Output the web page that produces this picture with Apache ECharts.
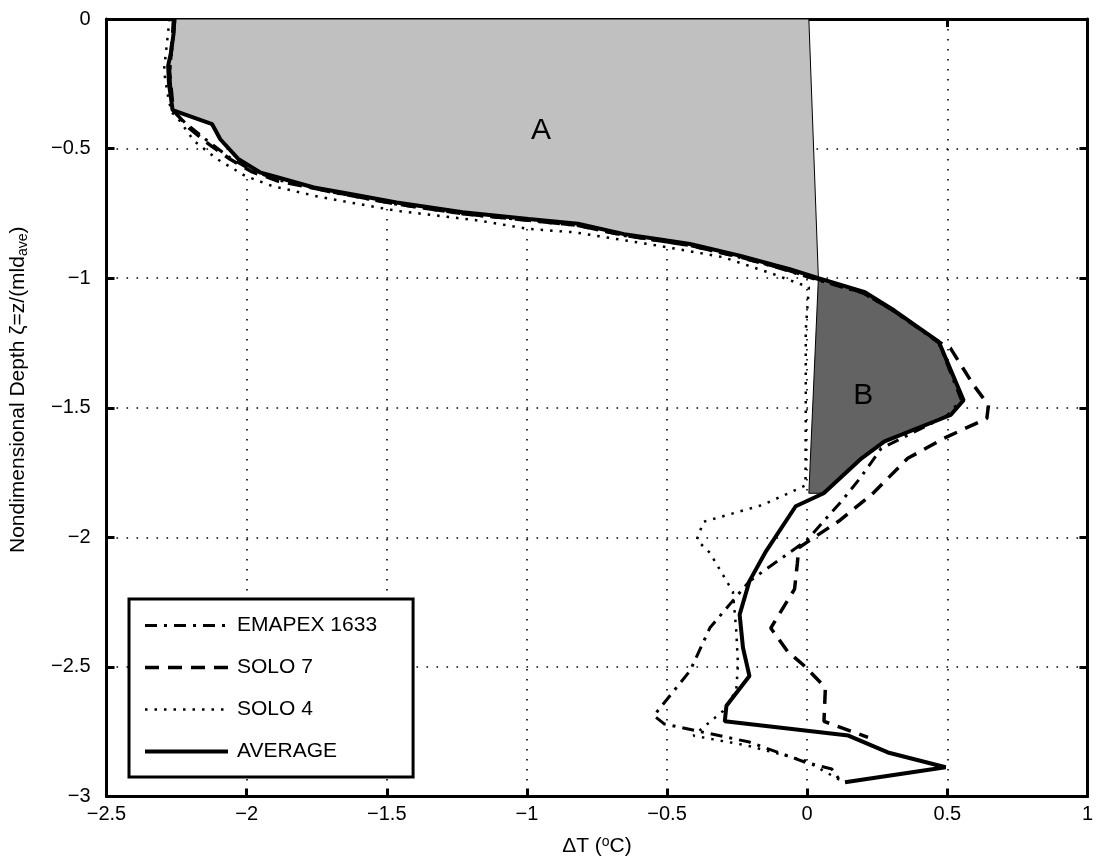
<!DOCTYPE html>
<html>
<head>
<meta charset="utf-8">
<script src="https://cdn.jsdelivr.net/npm/echarts@6/dist/echarts.min.js"></script>
<style>
  html, body { margin: 0; padding: 0; background: #fff; }
  #chart { width: 1096px; height: 862px; }
</style>
</head>
<body>
<div id="chart"></div>
<script>
// Temperature anomaly profiles (ΔT, °C) against nondimensional depth ζ.
const avgDT    = [-2.26, -2.26, -2.27, -2.28, -2.277, -2.264, -2.123, -2.094, -2.03, -1.95, -1.91, -1.76, -1.63, -1.465, -1.229, -0.994, -0.818, -0.653, -0.5, -0.418, -0.241, -0.112, -0.065, 0.04, 0.206, 0.311, 0.47, 0.558, 0.512, 0.276, 0.194, 0.059, -0.041, -0.147, -0.206, -0.241, -0.229, -0.206, -0.288, -0.294, 0.147, 0.288, 0.494, 0.135];
const avgDepth = [0, -0.05, -0.13, -0.18, -0.25, -0.352, -0.406, -0.464, -0.54, -0.593, -0.605, -0.65, -0.675, -0.708, -0.746, -0.772, -0.79, -0.83, -0.855, -0.868, -0.913, -0.951, -0.964, -1.0, -1.054, -1.125, -1.246, -1.471, -1.528, -1.63, -1.695, -1.83, -1.88, -2.054, -2.169, -2.298, -2.426, -2.535, -2.65, -2.71, -2.765, -2.83, -2.887, -2.945];

const emapexDT    = [-2.255, -2.275, -2.265, -2.22, -2.14, -2.06, -1.98, -1.89, -1.70, -1.47, -1.23, -0.99, -0.82, -0.65, -0.42, -0.24, -0.11, 0.03, 0.2, 0.31, 0.47, 0.55, 0.5, 0.264, 0.19, 0.123, 0.0, -0.206, -0.347, -0.418, -0.547, -0.51, -0.206, -0.006, 0.088, 0.117];
const emapexDepth = [0, -0.2, -0.35, -0.40, -0.47, -0.535, -0.585, -0.62, -0.668, -0.714, -0.752, -0.778, -0.797, -0.836, -0.874, -0.92, -0.958, -1.005, -1.058, -1.128, -1.25, -1.47, -1.53, -1.657, -1.77, -1.86, -2.01, -2.169, -2.349, -2.515, -2.688, -2.72, -2.79, -2.868, -2.894, -2.938];

const solo7DT    = [-2.26, -2.275, -2.262, -2.206, -2.135, -2.06, -1.98, -1.888, -1.70, -1.47, -1.23, -0.99, -0.82, -0.65, -0.42, -0.24, -0.11, 0.035, 0.2, 0.31, 0.47, 0.511, 0.594, 0.647, 0.641, 0.488, 0.359, 0.229, 0.112, -0.03, -0.035, -0.045, -0.13, -0.07, -0.006, 0.065, 0.06, 0.217];
const solo7Depth = [0, -0.2, -0.352, -0.42, -0.483, -0.54, -0.59, -0.625, -0.666, -0.713, -0.751, -0.777, -0.796, -0.835, -0.873, -0.918, -0.956, -1.003, -1.056, -1.127, -1.246, -1.27, -1.413, -1.49, -1.541, -1.618, -1.695, -1.836, -1.938, -2.04, -2.1, -2.2, -2.35, -2.44, -2.5, -2.58, -2.71, -2.772];

const solo4DT    = [-2.275, -2.285, -2.295, -2.28, -2.268, -2.247, -2.188, -2.106, -2.006, -1.91, -1.75, -1.63, -1.465, -1.17, -0.994, -0.83, -0.535, -0.30, -0.124, 0.006, -0.005, -0.005, -0.006, -0.159, -0.37, -0.394, -0.347, -0.265, -0.253, -0.247, -0.253, -0.30, -0.406, -0.212, -0.006, 0.123];
const solo4Depth = [0, -0.1, -0.2, -0.3, -0.36, -0.38, -0.47, -0.54, -0.605, -0.644, -0.684, -0.708, -0.74, -0.778, -0.81, -0.823, -0.874, -0.919, -0.983, -1.035, -1.2, -1.5, -1.8, -1.875, -1.94, -2.01, -2.06, -2.21, -2.36, -2.49, -2.59, -2.67, -2.765, -2.804, -2.862, -2.94];

// Closing edges of the shaded regions (near the ΔT = 0 line)
const edgeA_DT = [0.006], edgeA_Depth = [0];
const edgeB_DT = [0.006], edgeB_Depth = [-1.83];

const regionLabels = ['A', 'B'];
const regionLabelDT = [-0.95, 0.2];
const regionLabelDepth = [-0.43, -1.455];

const zip = (a, b) => a.map((v, i) => [v, b[i]]);
const avgPts = zip(avgDT, avgDepth);

// Region A: average profile from the surface to its ζ = -1 crossing, closed by the zero edge;
// region B: average profile from ζ = -1 down to ζ = -1.83.
const iCross = avgDepth.indexOf(-1.0);
const iBottomB = avgDepth.indexOf(-1.83);
const polyA = avgPts.slice(0, iCross + 1).concat(zip(edgeA_DT, edgeA_Depth));
const polyB = avgPts.slice(iCross, iBottomB + 1).concat(zip(edgeB_DT, edgeB_Depth));
const shades = [
  { pts: polyA, fill: '#c0c0c0' },
  { pts: polyB, fill: '#636363' }
];

const FONT = 'Liberation Sans, Arial, Helvetica, sans-serif';
const minus = v => String(v).replace('-', '\u2212');

const chart = echarts.init(document.getElementById('chart'), null, { renderer: 'canvas' });

const axisLine = { show: true, onZero: false, lineStyle: { color: '#000', width: 3 } };
const axisTick = { show: true, inside: true, length: 8, lineStyle: { color: '#000', width: 3 } };
const gridLine = { show: true, lineStyle: { color: '#000', width: 1.6, type: [1.6, 8.4] } };

chart.setOption({
  backgroundColor: '#fff',
  animation: false,
  grid: { left: 103, right: 1, top: 19, bottom: 63, containLabel: false },
  xAxis: [
    {
      type: 'value', min: -2.5, max: 1, interval: 0.5, position: 'bottom',
      axisLine, axisTick, splitLine: gridLine,
      axisLabel: { color: '#000', fontSize: 20, fontFamily: FONT, margin: 8, formatter: minus },
      name: 'ΔT ({sup|o}C)', nameLocation: 'middle', nameGap: 39,
      nameTextStyle: {
        color: '#000', fontSize: 21, fontFamily: FONT,
        rich: { sup: { fontSize: 14, fontFamily: FONT, color: '#000', verticalAlign: 'top', padding: [0, 0, 8, 0] } }
      }
    },
    {
      type: 'value', min: -2.5, max: 1, interval: 0.5, position: 'top',
      axisLine, axisTick, splitLine: { show: false }, axisLabel: { show: false }
    }
  ],
  yAxis: [
    {
      type: 'value', min: -3, max: 0, interval: 0.5, position: 'left',
      axisLine, axisTick, splitLine: gridLine,
      axisLabel: { color: '#000', fontSize: 20, fontFamily: FONT, margin: 16, formatter: minus },
      name: 'Nondimensional Depth ζ=z/(mld{sub|ave})', nameLocation: 'middle', nameGap: 76,
      nameTextStyle: {
        color: '#000', fontSize: 21, fontFamily: FONT, padding: [0, 0, 0, 36],
        rich: { sub: { fontSize: 14, fontFamily: FONT, color: '#000', verticalAlign: 'bottom', padding: [10, 0, 0, 0] } }
      }
    },
    {
      type: 'value', min: -3, max: 0, interval: 0.5, position: 'right',
      axisLine, axisTick, splitLine: { show: false }, axisLabel: { show: false }
    }
  ],
  legend: {
    orient: 'vertical', left: 129, top: 599,
    padding: [16, 36, 15, 14],
    itemWidth: 83, itemHeight: 21, itemGap: 21,
    backgroundColor: '#fff', borderColor: '#000', borderWidth: 3, borderRadius: 0,
    itemStyle: { opacity: 0 },
    textStyle: { color: '#000', fontSize: 21, fontFamily: FONT, lineHeight: 21, padding: [0, 0, 0, 4] },
    data: [
      { name: 'EMAPEX 1633', lineStyle: { width: 3 } },
      { name: 'SOLO 7', lineStyle: { width: 3.5 } },
      { name: 'SOLO 4', lineStyle: { width: 2.5 } },
      { name: 'AVERAGE', lineStyle: { width: 4 } }
    ]
  },
  series: [
    {
      type: 'custom', name: 'shading', z: 1, silent: true,
      data: zip(regionLabelDT, regionLabelDepth),
      renderItem: function (params, api) {
        const s = shades[params.dataIndex];
        const pts = s.pts.map(p => api.coord(p));
        const c = api.coord([regionLabelDT[params.dataIndex], regionLabelDepth[params.dataIndex]]);
        return {
          type: 'group',
          children: [
            { type: 'polygon', shape: { points: pts }, style: { fill: s.fill, stroke: '#000', lineWidth: 1 } },
            { type: 'text', x: c[0], y: c[1], z2: 5,
              style: { text: regionLabels[params.dataIndex], fill: '#000', font: '30px ' + FONT, align: 'center', verticalAlign: 'middle' } }
          ]
        };
      }
    },
    {
      name: 'EMAPEX 1633', type: 'line', symbol: 'none', z: 3,
      data: zip(emapexDT, emapexDepth),
      lineStyle: { color: '#000', width: 3, type: [12, 7, 3, 7] }, itemStyle: { color: '#000' }
    },
    {
      name: 'SOLO 7', type: 'line', symbol: 'none', z: 3,
      data: zip(solo7DT, solo7Depth),
      lineStyle: { color: '#000', width: 3.5, type: [14, 9] }, itemStyle: { color: '#000' }
    },
    {
      name: 'SOLO 4', type: 'line', symbol: 'none', z: 3,
      data: zip(solo4DT, solo4Depth),
      lineStyle: { color: '#000', width: 2.5, type: [2.5, 7] }, itemStyle: { color: '#000' }
    },
    {
      name: 'AVERAGE', type: 'line', symbol: 'none', z: 4,
      data: avgPts,
      lineStyle: { color: '#000', width: 4, type: 'solid' }, itemStyle: { color: '#000' }
    }
  ]
});
</script>
</body>
</html>
